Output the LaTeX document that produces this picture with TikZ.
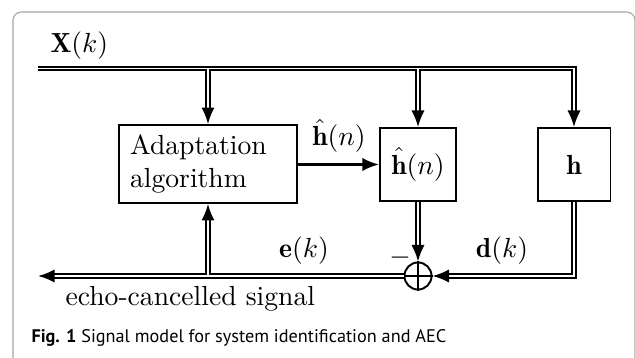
\documentclass[tikz,border=0pt]{standalone}
\usepackage{amsmath}
\usepackage{amssymb}
\usepackage{fontspec}
\newfontfamily\capfont{PT Sans}
\usepackage{tikz}
\usetikzlibrary{arrows.meta}
\usetikzlibrary{positioning}

\begin{document}
\begin{tikzpicture}[x=0.362pt,y=-0.362pt,
			block/.style={draw,line width=0.7pt,inner sep=0pt},
			bus/.style={double,line width=0.7pt,double distance=0.6pt,
				-{Latex[length=6pt,width=4.8pt]}},
			core/.style={white,line width=0.6pt},
			lbl/.style={inner sep=0pt,anchor=base}]
			
			\useasboundingbox (0,0) rectangle (635,358);
			\draw[gray!70,line width=0.4pt,rounded corners=3pt]
			(13,420) -- (13,12) -- (635,12) -- (635,420);
			
			\node[block,minimum width=64.4pt,minimum height=28.2pt,
				text width=56.4pt,align=left,inner xsep=4pt] (adapt) at (208,164)
				{Adaptation\\algorithm};
			\node[block,minimum width=27.5pt,minimum height=26.4pt] (hest) at (418,164.5)
				{$\hat{\mathbf{h}}(n)$};
			\node[block,minimum size=26.4pt] (hsys) at (574,164.5) {$\mathbf{h}$};
			\node[circle,draw,line width=0.7pt,minimum size=9.8pt,inner sep=0pt] (sum) at (418,276) {};
			\draw[line width=0.45pt] (sum.north) -- (sum.south) (sum.west) -- (sum.east);
			
			\coordinate (xin) at (38,68.5);
			\coordinate (eout) at (38,276);
			
			% input bus and taps
			\draw[bus] (xin) -- (xin -| hsys) -- (hsys.north);
			\draw[bus] (xin -| adapt) -- (adapt.north);
			\draw[bus] (xin -| hest) -- (hest.north);
			\draw[core] (xin -| adapt) ++(-3,0) -- ++(6,0) (xin -| adapt) -- ++(0,6);
			\draw[core] (xin -| hest) ++(-3,0) -- ++(6,0) (xin -| hest) -- ++(0,6);
			
			% error path
			\draw[bus] (hsys.south) |- (sum.east);
			\draw[bus] (hest.south) -- (sum.north);
			\draw[bus] (sum.west) -- (eout);
			\draw[bus] (sum -| adapt) -- (adapt.south);
			\draw[core] (sum -| adapt) ++(-3,0) -- ++(6,0) (sum -| adapt) -- ++(0,-6);
			
			\draw[-{Latex[length=6pt,width=4.8pt]},line width=0.9pt] (adapt.east |- hest) -- (hest.west);
			
			\node[inner sep=0pt,anchor=west] (xlbl) at (50,45.5) {$\mathbf{X}(k)$};
			\node[lbl] (hlbl) at (339,146) {$\hat{\mathbf{h}}(n)$};
			\node[lbl] (elbl) at (304,258) {$\mathbf{e}(k)$};
			\node[lbl] (dlbl) at (502,258) {$\mathbf{d}(k)$};
			\node[inner sep=0pt] (minus) at (400,258) {$-$};
			\node[lbl,anchor=base west] (echo) at (65,305) {echo-cancelled signal};
			\node[lbl,anchor=base west] (cap) at (31,342)
				{\capfont\fontsize{6.6}{8}\selectfont\textbf{Fig. 1} Signal model for system identification and AEC};
			
		\end{tikzpicture}
\end{document}
